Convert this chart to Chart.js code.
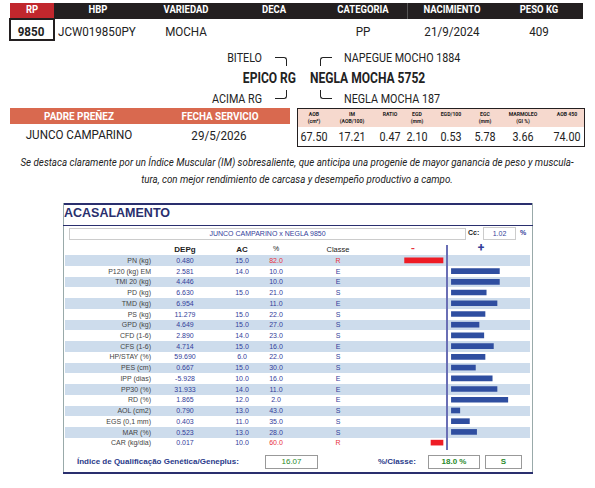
<!DOCTYPE html>
<html>
<head>
<meta charset="utf-8">
<script src="https://cdn.jsdelivr.net/npm/chart.js@4"></script>
<style>
  body { margin: 0; width: 595px; height: 488px; background: #fff; position: relative; overflow: hidden;
         font-family: "Roboto", sans-serif; color: #222; }
  .a { position: absolute; white-space: nowrap; }
  .c { transform: translateX(-50%); }
  .r { transform: translateX(-100%); }
  .n { transform: scaleX(0.86); transform-origin: left; }
  .nc { transform: translateX(-50%) scaleX(0.86); }
  .nr { transform: translateX(-100%) scaleX(0.86); transform-origin: right; }
  .hd { color: #fff; font-weight: bold; font-size: 11px; top: 3px; }
  .v1 { font-size: 13.5px; top: 23px; }
  .ped { font-size: 12.5px; }
  .t { font-family: "Liberation Sans", Arial, sans-serif; font-size: 7px; }
  .lab { color: #444; }
  .val { color: #33409a; }
  .red { color: #e8323c; }
  .row { position: absolute; left: 65px; width: 465px; height: 10.7px; background: #cddcec; }
  .ln { position: absolute; border-color: #222; border-style: solid; border-width: 0; }
</style>
</head>
<body>
<!-- top info -->
<div class="a" style="left:10px;top:3px;width:573px;height:16px;background:#231f20"></div>
<div class="a" style="left:10px;top:3px;width:44px;height:16px;background:#c1272d"></div>
<div class="a" style="left:9px;top:18px;width:42px;height:19px;border:2px solid #231f20"></div>
<div class="a" style="left:407px;top:3px;width:1px;height:16px;background:#555"></div>
<div id="top"></div>

<!-- pedigree -->
<div class="a ped nr" style="left:262px;top:50px">BITELO</div>
<div class="a ped nr" style="left:262px;top:91px">ACIMA RG</div>
<div class="a ped nr" style="left:296px;top:70px;font-weight:bold;font-size:14px">EPICO RG</div>
<div class="a ped n" style="left:310px;top:70px;font-weight:bold;font-size:14px">NEGLA MOCHA 5752</div>
<div class="a ped n" style="left:344px;top:50px">NAPEGUE MOCHO 1884</div>
<div class="a ped n" style="left:344px;top:91px">NEGLA MOCHA 187</div>
<div class="ln" style="left:275px;top:57px;width:11px;height:8px;border-top-width:1px;border-right-width:1px;border-top-right-radius:3px"></div>
<div class="ln" style="left:275px;top:90px;width:11px;height:8px;border-bottom-width:1px;border-right-width:1px;border-bottom-right-radius:3px"></div>
<div class="ln" style="left:320px;top:57px;width:11px;height:8px;border-top-width:1px;border-left-width:1px;border-top-left-radius:3px"></div>
<div class="ln" style="left:320px;top:90px;width:11px;height:8px;border-bottom-width:1px;border-left-width:1px;border-bottom-left-radius:3px"></div>

<!-- padre / fecha -->
<div class="a" style="left:10px;top:108px;width:280px;height:16px;background:#d9694f"></div>
<div class="a nc" style="left:79px;top:109px;color:#fff;font-weight:bold;font-size:11.5px">PADRE PREÑEZ</div>
<div class="a nc" style="left:220px;top:109px;color:#fff;font-weight:bold;font-size:11.5px">FECHA SERVICIO</div>
<div class="a nc" style="left:79px;top:126px;font-size:13.5px">JUNCO CAMPARINO</div>
<div class="a nc" style="left:219px;top:127px;font-size:13.5px">29/5/2026</div>

<!-- carcass box -->
<div class="a" style="left:297px;top:108px;width:286px;height:37px;border:1px solid #231f20"></div>
<div class="a" style="left:298px;top:109px;width:286px;height:18px;background:#f6d9ce"></div>
<div id="carc"></div>

<div class="a" style="left:297px;top:154px;transform:translateX(-50%) scaleX(0.93);font-style:italic;font-size:10.5px;text-align:center;line-height:17px">
Se destaca claramente por un Índice Muscular (IM) sobresaliente, que anticipa una progenie de mayor ganancia de peso y muscula-<br>tura, con mejor rendimiento de carcasa y desempeño productivo a campo.</div>

<!-- panel -->
<div class="a" style="left:63px;top:203px;width:470px;height:2px;background:#2a2f6e"></div>
<div class="a" style="left:63px;top:203px;width:1px;height:270px;background:#9aa"></div>
<div class="a" style="left:532px;top:203px;width:1px;height:270px;background:#9aa"></div>
<div class="a" style="left:63px;top:225px;width:470px;height:1px;background:#2a2f6e"></div>
<div class="a" style="left:63px;top:472px;width:470px;height:2px;background:#2a2f6e"></div>
<div class="a t" style="left:64px;top:206px;font-size:12.5px;font-weight:bold;color:#2a2f6e">ACASALAMENTO</div>
<div class="a t val" style="left:69px;top:228px;width:395px;height:10px;border:1px solid #ccc;text-align:center;line-height:10px">JUNCO CAMPARINO x NEGLA 9850</div>
<div class="a t" style="left:468px;top:229px;font-weight:bold">Cc:</div>
<div class="a t val" style="left:483px;top:227px;width:31px;height:11px;border:1px solid #ccc;text-align:center;line-height:11px">1.02</div>
<div class="a t val" style="left:520px;top:229px;font-weight:bold">%</div>
<div class="a t c" style="left:185px;top:245px;font-weight:bold;font-size:8px">DEPg</div>
<div class="a t c" style="left:242px;top:245px;font-weight:bold;font-size:8px">AC</div>
<div class="a t c" style="left:276px;top:245px">%</div>
<div class="a t c" style="left:338px;top:245px;font-size:7.5px">Classe</div>
<div class="a c red" style="left:413px;top:242px;font-weight:bold;font-size:11px">-</div>
<div class="a c val" style="left:481px;top:241px;font-weight:bold;font-size:12px">+</div>
<div id="rows"></div>
<div class="a" style="left:446px;top:245px;width:2px;height:205px;background:#6a6fb5;z-index:2"></div>
<canvas id="bars" class="a" style="left:368px;top:255px;z-index:3"></canvas>

<div class="a t" style="left:77px;top:457px;font-weight:bold;font-size:8px;color:#2a3a8a">Índice de Qualificação Genética/Geneplus:</div>
<div class="a t" style="left:265px;top:455px;width:51px;height:12px;border:1px solid #999;text-align:center;line-height:12px;color:#2a8a2a;font-size:8px">16.07</div>
<div class="a t" style="left:378px;top:457px;font-weight:bold;font-size:8px;color:#2a3a8a">%/Classe:</div>
<div class="a t" style="left:428px;top:455px;width:50px;height:12px;border:1px solid #999;text-align:center;line-height:12px;color:#2a8a2a;font-size:8px;font-weight:bold">18.0 %</div>
<div class="a t" style="left:485px;top:455px;width:35px;height:12px;border:1px solid #999;text-align:center;line-height:12px;color:#2a8a2a;font-size:8px;font-weight:bold">S</div>

<script>
const headCols = ['HBP', 'VARIEDAD', 'DECA', 'CATEGORIA', 'NACIMIENTO', 'PESO KG'];
const headVals = ['JCW019850PY', 'MOCHA', '', 'PP', '21/9/2024', '409'];
const carcLabels = ['AOB<br>(cm²)', 'IM<br>(AOB/100)', 'RATIO', 'EGD<br>(mm)', 'EGD/100', 'EGC<br>(mm)', 'MARMOLEO<br>(GI %)', 'AOB 450'];
const carcValues = ['67.50', '17.21', '0.47', '2.10', '0.53', '5.78', '3.66', '74.00'];

const traits = ['PN (kg)', 'P120 (kg) EM', 'TMI 20 (kg)', 'PD (kg)', 'TMD (kg)', 'PS (kg)', 'GPD (kg)', 'CFD (1-6)', 'CFS (1-6)', 'HP/STAY (%)', 'PES (cm)', 'IPP (dias)', 'PP30 (%)', 'RD (%)', 'AOL (cm2)', 'EGS (0,1 mm)', 'MAR (%)', 'CAR (kg/dia)'];
const depg = ['0.480', '2.581', '4.446', '6.630', '6.954', '11.279', '4.649', '2.890', '4.714', '59.690', '0.667', '-5.928', '31.933', '1.865', '0.790', '0.403', '0.523', '0.017'];
const ac = ['15.0', '14.0', '', '15.0', '', '15.0', '15.0', '14.0', '15.0', '6.0', '15.0', '10.0', '14.0', '12.0', '13.0', '11.0', '13.0', '10.0'];
const pct = ['82.0', '10.0', '10.0', '21.0', '11.0', '22.0', '27.0', '23.0', '16.0', '22.0', '30.0', '16.0', '11.0', '2.0', '43.0', '35.0', '28.0', '60.0'];
const classe = ['R', 'E', 'E', 'S', 'E', 'S', 'S', 'S', 'E', 'S', 'S', 'E', 'E', 'E', 'S', 'S', 'S', 'R'];
// bar length (negative = red bar to the left)
const barValues = [-32, 40, 40, 29, 38, 28, 23, 27, 35, 28, 20, 34, 38, 47, 7, 15, 21, -10];

const colX = [98, 186, 274, 363, 452, 539];
let html = '';
headCols.forEach((h, i) => {
    html += `<div class="a nc hd" style="left:${colX[i]}px">${h}</div>`;
    if (i === 0) html += `<div class="a n v1" style="left:58px">${headVals[i]}</div>`;
    else html += `<div class="a nc v1" style="left:${colX[i]}px">${headVals[i]}</div>`;
});
html += '<div class="a nc hd" style="left:32px">RP</div>';
html += '<div class="a nc v1" style="left:31px;font-weight:bold">9850</div>';
document.getElementById('top').innerHTML = html;

const cx = [314, 352, 390, 417, 451, 485, 523, 567];
html = '';
carcLabels.forEach((l, i) => {
    html += `<div class="a nc" style="left:${cx[i]}px;top:110px;font-size:6px;font-weight:bold;text-align:center;line-height:7px">${l}</div>`;
    html += `<div class="a nc" style="left:${cx[i]}px;top:129px;font-size:12.5px">${carcValues[i]}</div>`;
});
document.getElementById('carc').innerHTML = html;

const rowH = 10.74, rowTop = 255.3;
html = '';
traits.forEach((t, i) => {
    const y = rowTop + i * rowH;
    if (i % 2 === 0) html += `<div class="row" style="top:${y}px"></div>`;
    const ty = y + 1.5;
    const red = classe[i] === 'R' ? ' red' : '';
    html += `<div class="a t lab r" style="left:151px;top:${ty}px">${t}</div>`;
    html += `<div class="a t val c" style="left:185px;top:${ty}px">${depg[i]}</div>`;
    html += `<div class="a t val c" style="left:242px;top:${ty}px">${ac[i]}</div>`;
    html += `<div class="a t val c${red}" style="left:276px;top:${ty}px">${pct[i]}</div>`;
    html += `<div class="a t val c${red}" style="left:338px;top:${ty}px">${classe[i]}</div>`;
});
document.getElementById('rows').innerHTML = html;

// bars: 1.2px per unit, zero at x=446.7
const canvas = document.getElementById('bars');
canvas.style.width = '168px';
canvas.style.height = (rowH * traits.length) + 'px';
new Chart(canvas, {
    type: 'bar',
    data: {
        labels: traits,
        datasets: [{
            data: barValues.map(v => v >= 0 ? [4, 4 + v] : [v - 3, -3]),
            backgroundColor: barValues.map(v => v >= 0 ? '#2f4ea0' : '#ee1c25'),
            barThickness: 5
        }]
    },
    options: {
        indexAxis: 'y',
        responsive: false,
        animation: false,
        layout: { padding: 0 },
        plugins: { legend: { display: false }, tooltip: { enabled: false } },
        scales: {
            x: { display: false, min: -65.5, max: 74.5 },
            y: { display: false }
        }
    }
});
</script>
</body>
</html>
